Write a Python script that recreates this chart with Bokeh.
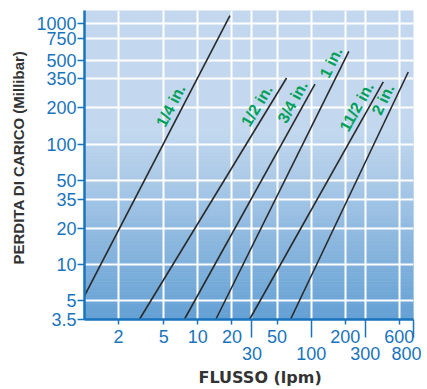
import numpy as np
from bokeh.plotting import figure
from bokeh.models import FixedTicker, LogAxis, CustomJSTickFormatter, Title, ColumnDataSource
from bokeh.core.properties import value
from bokeh.embed import file_html
from bokeh.resources import INLINE

# ---------------- data ----------------
sizes = ["1/4 in.", "1/2 in.", "3/4 in.", "1 in.", "11/2 in.", "2 in."]
flow_start = [1.0, 3.05, 7.6, 14.4, 28.6, 65.7]      # lpm
loss_start = [5.5, 3.5, 3.5, 3.5, 3.5, 3.5]          # mbar
flow_end = [19.2, 60.7, 108, 215, 433, 719]          # lpm
loss_end = [1170, 355, 315, 590, 330, 398]           # mbar
label_at_loss = [190, 188, 203, 435, 185, 215]       # mbar where each size label sits

y_ticks = [3.5, 5, 10, 20, 35, 50, 100, 200, 350, 500, 750, 1000]
x_ticks_upper = [2, 5, 10, 20, 50, 200, 600]
x_ticks_lower = [30, 100, 300, 800]
x_grid = [2, 5, 10, 20, 30, 50, 100, 200, 300, 600]

X_RANGE = (1, 800)
Y_RANGE = (3.5, 1290)

# ---------------- styles ----------------
BLUE = "#1a74bd"
GREEN = "#00a05a"
DARK = "#333333"
TOP_RGB = np.array([195, 216, 238])
BOT_RGB = np.array([100, 160, 212])
GRAD_START = 130

W, H = 421, 389
BL, BR, BT, BB = 84, 8, 10, 69
FW = W - BL - BR
FH = H - BT - BB

p = figure(width=W, height=H, x_axis_type="log", y_axis_type="log",
           x_range=X_RANGE, y_range=Y_RANGE, output_backend="svg",
           toolbar_location=None, min_border_left=BL, min_border_right=BR,
           min_border_top=BT, min_border_bottom=BB)
p.outline_line_color = None
p.background_fill_color = "#%02x%02x%02x" % tuple(TOP_RGB)
p.border_fill_color = "white"

# gradient bands in the lower part
n = 60
edges = np.logspace(np.log10(Y_RANGE[0]), np.log10(GRAD_START), n + 1)
cols = []
for i in range(n):
    t = 1 - (i + 0.5) / n
    c = TOP_RGB + t * (BOT_RGB - TOP_RGB)
    cols.append("#%02x%02x%02x" % tuple(int(round(v)) for v in c))
p.quad(left=X_RANGE[0], right=X_RANGE[1], bottom=edges[:-1], top=edges[1:],
       fill_color=cols, line_color=cols, line_width=0.6, level="image")

# grid
p.xgrid.ticker = FixedTicker(ticks=x_grid)
p.ygrid.ticker = FixedTicker(ticks=y_ticks[1:])
for g in (p.xgrid[0], p.ygrid[0]):
    g.grid_line_color = "white"
    g.grid_line_width = 2
    g.grid_line_alpha = 1

fmt = CustomJSTickFormatter(code="return String(tick)")

# y axis
ya = p.yaxis[0]
ya.ticker = FixedTicker(ticks=y_ticks)
ya.formatter = fmt
ya.axis_line_color = BLUE
ya.axis_line_width = 2.5
ya.major_tick_line_color = BLUE
ya.major_tick_line_width = 1.5
ya.major_tick_out = 7
ya.major_tick_in = 0
ya.minor_tick_line_color = None
ya.minor_tick_out = 0
ya.major_label_text_font = "Liberation Sans"
ya.major_label_text_font_size = "18px"
ya.major_label_text_color = BLUE
ya.major_label_standoff = 1

# x axis (upper labels, long minor ticks for lower labels)
xa = p.xaxis[0]
xa.ticker = FixedTicker(ticks=x_ticks_upper, minor_ticks=x_ticks_lower)
xa.formatter = fmt
xa.axis_line_color = BLUE
xa.axis_line_width = 2.5
xa.major_tick_line_color = BLUE
xa.major_tick_line_width = 1.5
xa.major_tick_out = 5
xa.major_tick_in = 0
xa.minor_tick_line_color = BLUE
xa.minor_tick_line_width = 1.5
xa.minor_tick_out = 18
xa.minor_tick_in = 0
xa.major_label_text_font = "Liberation Sans"
xa.major_label_text_font_size = "18px"
xa.major_label_text_color = BLUE
xa.major_label_standoff = -8

xa2 = LogAxis(ticker=FixedTicker(ticks=x_ticks_lower), formatter=fmt,
              axis_line_color=None, major_tick_line_color=None,
              minor_tick_line_color=None, major_tick_out=0, major_tick_in=0,
              minor_tick_out=0, minor_tick_in=0,
              major_label_standoff=1, major_label_text_font="Liberation Sans",
              major_label_text_font_size="18px", major_label_text_color=BLUE)
p.add_layout(xa2, "below")

# lines
p.segment(x0=flow_start, y0=loss_start, x1=flow_end, y1=loss_end,
          line_color="#2a2a2a", line_width=1.6)

# labels along lines
pxx = FW / np.log10(X_RANGE[1] / X_RANGE[0])
pxy = FH / np.log10(Y_RANGE[1] / Y_RANGE[0])
lx, ly, ang = [], [], []
GAP = 11
for xs, ys, xe, ye, yl in zip(flow_start, loss_start, flow_end, loss_end, label_at_loss):
    dlx = np.log10(xe / xs)
    dly = np.log10(ye / ys)
    th = np.arctan2(dly * pxy, dlx * pxx)
    t = np.log10(yl / ys) / dly
    xl = np.log10(xs) + t * dlx
    yll = np.log10(yl)
    xl += -GAP * np.sin(th) / pxx
    yll += GAP * np.cos(th) / pxy
    lx.append(10 ** xl)
    ly.append(10 ** yll)
    ang.append(th)
src = ColumnDataSource(dict(x=lx, y=ly, text=sizes, angle=ang))
p.text(x="x", y="y", text="text", angle="angle", source=src,
       text_font=value("Liberation Sans"), text_font_style="bold",
       text_font_size="16px", text_color=GREEN, text_align="center",
       text_baseline="middle")

# axis titles
p.add_layout(Title(text="PERDITA DI CARICO (Millibar)", align="left", offset=55,
                   standoff=14, text_font="Liberation Sans", text_font_style="bold",
                   text_font_size="15px", text_color=DARK), "left")
p.add_layout(Title(text="FLUSSO (lpm)", align="left", offset=114, standoff=6,
                   text_font="DejaVu Sans", text_font_style="bold",
                   text_font_size="16px", text_color=DARK), "below")

open("out.html", "w").write(file_html(p, INLINE))
